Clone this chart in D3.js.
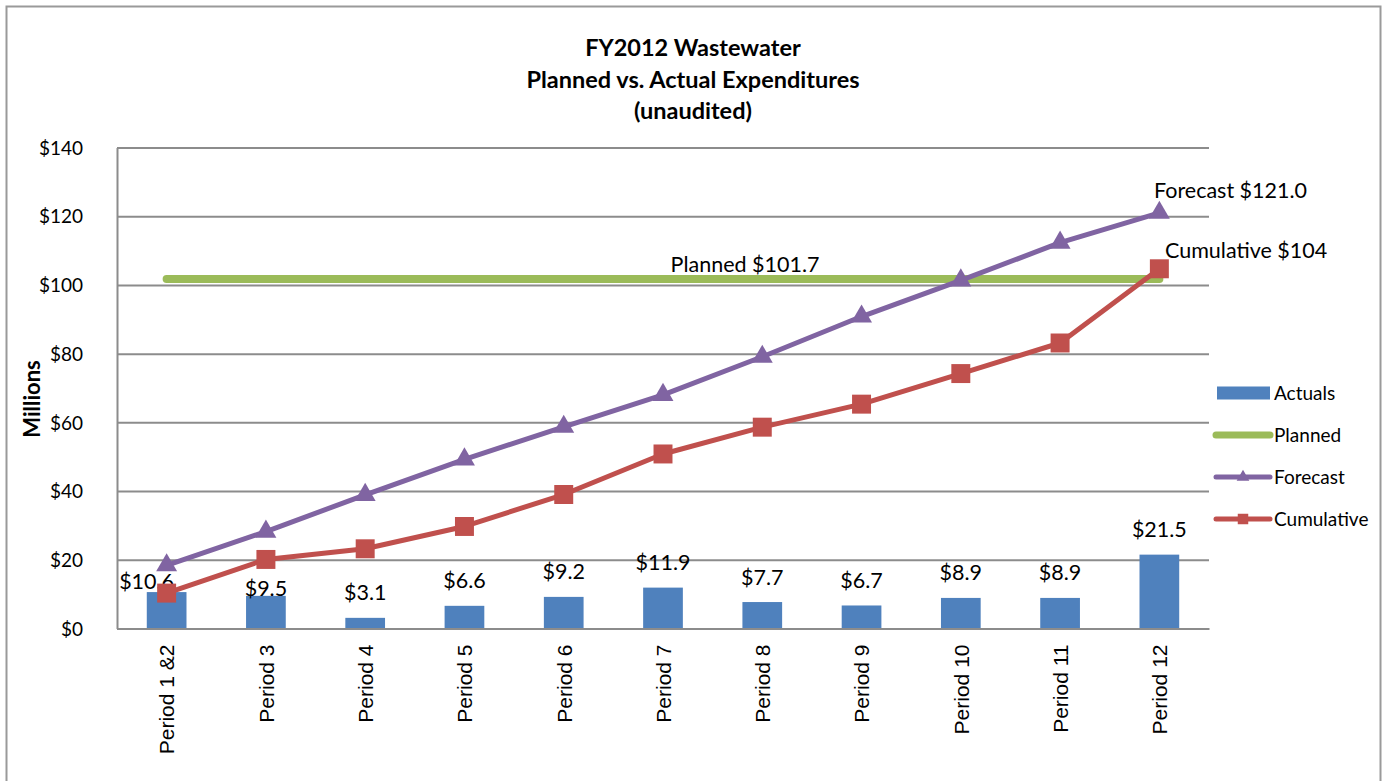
<!DOCTYPE html>
<html>
<head>
<meta charset="utf-8">
<script src="https://cdn.jsdelivr.net/npm/d3@7"></script>
<style>
  body { margin: 0; background: #fff; }
  svg text { fill: #000; }
</style>
</head>
<body>
<svg id="chart" width="1386" height="781" font-family="Lato, 'Open Sans', sans-serif"></svg>
<script>
// data
const periods = ['Period 1 &2', 'Period 3', 'Period 4', 'Period 5', 'Period 6', 'Period 7',
  'Period 8', 'Period 9', 'Period 10', 'Period 11', 'Period 12'];
const actuals = [10.6, 9.5, 3.1, 6.6, 9.2, 11.9, 7.7, 6.7, 8.9, 8.9, 21.5];
const forecast = [18.4, 28.2, 38.9, 49.2, 58.7, 68.0, 79.1, 90.8, 101.3, 112.3, 121.0];
const cumulative = [10.3, 20.1, 23.2, 29.7, 39.0, 50.8, 58.6, 65.3, 74.2, 83.1, 104.7];
const planned = 101.7;
const yTicks = [0, 20, 40, 60, 80, 100, 120, 140];
const titleLines = ['FY2012 Wastewater', 'Planned vs. Actual Expenditures', '(unaudited)'];

const colors = {bar: '#4F81BD', planned: '#9BBB59', forecast: '#8064A2', cumulative: '#C0504D', grid: '#8c8c8c'};
const plot = {left: 117, right: 1209, top: 147.5, bottom: 628.5};
const labelFont = 21.5;

const svg = d3.select('#chart');

// outer chart border
svg.append('rect')
  .attr('x', 6.5).attr('y', 6.5)
  .attr('width', 1374).attr('height', 790)
  .attr('fill', 'none').attr('stroke', '#9a9a9a').attr('stroke-width', 2);

// title
svg.append('g').attr('id', 'title')
  .selectAll('text')
  .data(titleLines)
  .join('text')
    .attr('x', 693)
    .attr('y', (d, i) => 56 + i * 31.5)
    .attr('text-anchor', 'middle')
    .attr('font-size', 23.5)
    .attr('font-weight', 'bold')
    .text(d => d);

const x = d3.scalePoint().domain(periods).range([plot.left, plot.right]).padding(0.5);
const step = x.step();
const y = d3.scaleLinear().domain([0, 140]).range([plot.bottom, plot.top]);

// gridlines + y labels
const yAxis = svg.append('g').attr('id', 'axis-y')
  .attr('transform', `translate(${plot.left} 0)`)
  .call(d3.axisLeft(y).tickValues(yTicks).tickSize(-(plot.right - plot.left)).tickSizeOuter(0)
    .tickFormat(d => '$' + d).tickPadding(34));
yAxis.attr('font-family', null);
yAxis.select('.domain').attr('stroke', colors.grid).attr('stroke-width', 2);
yAxis.selectAll('.tick line').attr('stroke', colors.grid).attr('stroke-width', 2);
yAxis.selectAll('.tick text').attr('font-size', 19).attr('fill', '#000').attr('dy', '0.35em');

svg.append('text')
  .attr('transform', 'translate(40 399) rotate(-90)')
  .attr('text-anchor', 'middle')
  .attr('font-size', 22)
  .attr('font-weight', 'bold')
  .text('Millions');

// bars
const barW = step * 0.4;
svg.append('g').attr('id', 'bars')
  .selectAll('rect')
  .data(actuals)
  .join('rect')
    .attr('x', (d, i) => x(periods[i]) - barW / 2)
    .attr('y', d => y(d))
    .attr('width', barW)
    .attr('height', d => y(0) - y(d))
    .attr('fill', colors.bar);

// x axis baseline + labels
const xAxis = svg.append('g').attr('id', 'axis-x')
  .attr('transform', `translate(0 ${plot.bottom})`)
  .call(d3.axisBottom(x).tickSize(0).tickSizeOuter(0));
xAxis.attr('font-family', '"Liberation Sans", Arial, sans-serif').attr('font-size', 21);
xAxis.select('.domain').attr('stroke', colors.grid).attr('stroke-width', 2);
xAxis.selectAll('.tick text')
  .attr('fill', '#000')
  .attr('text-anchor', 'end')
  .attr('transform', 'rotate(-90)')
  .attr('x', -16)
  .attr('y', 0)
  .attr('dy', '0.35em');

// bar labels (first two were nudged by hand in the original)
const labelShift = {0: [-20, 14], 1: [0, 18]};
svg.append('g').attr('id', 'bar-labels')
  .selectAll('text')
  .data(actuals)
  .join('text')
    .attr('x', (d, i) => x(periods[i]) + (labelShift[i] ? labelShift[i][0] : 0))
    .attr('y', (d, i) => y(d) - 25 + (labelShift[i] ? labelShift[i][1] : 0))
    .attr('dy', '0.35em')
    .attr('text-anchor', 'middle')
    .attr('font-size', labelFont)
    .text(d => '$' + d.toFixed(1));

// planned line
svg.append('line')
  .attr('x1', x(periods[0])).attr('x2', x(periods[periods.length - 1]))
  .attr('y1', y(planned)).attr('y2', y(planned))
  .attr('stroke', colors.planned).attr('stroke-width', 8).attr('stroke-linecap', 'round');
svg.append('text')
  .attr('x', 745).attr('y', y(planned) - 7)
  .attr('text-anchor', 'middle').attr('font-size', labelFont)
  .text('Planned $' + planned.toFixed(1));

const line = d3.line().x((d, i) => x(periods[i])).y(d => y(d));

function series(vals, color, symbol, size) {
  const g = svg.append('g');
  g.append('path')
    .attr('d', line(vals))
    .attr('fill', 'none').attr('stroke', color).attr('stroke-width', 5)
    .attr('stroke-linejoin', 'round');
  g.selectAll('path.mk')
    .data(vals)
    .join('path')
      .attr('class', 'mk')
      .attr('d', d3.symbol().type(symbol).size(size))
      .attr('transform', (d, i) => `translate(${x(periods[i])} ${y(d)})`)
      .attr('fill', color);
}
series(forecast, colors.forecast, d3.symbolTriangle, 190);
series(cumulative, colors.cumulative, d3.symbolSquare, 360);

svg.append('text')
  .attr('x', 1154).attr('y', 190).attr('dy', '0.35em')
  .attr('font-size', labelFont)
  .text('Forecast $' + forecast[forecast.length - 1].toFixed(1));
svg.append('text')
  .attr('x', 1165).attr('y', 250).attr('dy', '0.35em')
  .attr('font-size', labelFont)
  .text('Cumulative $' + Math.floor(cumulative[cumulative.length - 1]));

// legend
const legendItems = [
  {name: 'Actuals', kind: 'bar', color: colors.bar},
  {name: 'Planned', kind: 'line', color: colors.planned, w: 7},
  {name: 'Forecast', kind: 'line', color: colors.forecast, w: 5, sym: d3.symbolTriangle, s: 70},
  {name: 'Cumulative', kind: 'line', color: colors.cumulative, w: 5, sym: d3.symbolSquare, s: 110}
];
const lg = svg.append('g').attr('id', 'legend')
  .selectAll('g')
  .data(legendItems)
  .join('g')
    .attr('transform', (d, i) => `translate(1216 ${393 + i * 42})`);
lg.each(function(d) {
  const g = d3.select(this);
  if (d.kind === 'bar') {
    g.append('rect').attr('x', 1).attr('y', -6.5).attr('width', 53).attr('height', 13).attr('fill', d.color);
  } else {
    g.append('line').attr('x1', 0).attr('x2', 54).attr('y1', 0).attr('y2', 0)
      .attr('stroke', d.color).attr('stroke-width', d.w).attr('stroke-linecap', 'round');
    if (d.sym) {
      g.append('path').attr('d', d3.symbol().type(d.sym).size(d.s)).attr('transform', 'translate(27 0)').attr('fill', d.color);
    }
  }
});
lg.append('text')
  .attr('x', 58).attr('y', 0).attr('dy', '0.35em')
  .attr('font-size', 19)
  .text(d => d.name);
</script>
</body>
</html>
